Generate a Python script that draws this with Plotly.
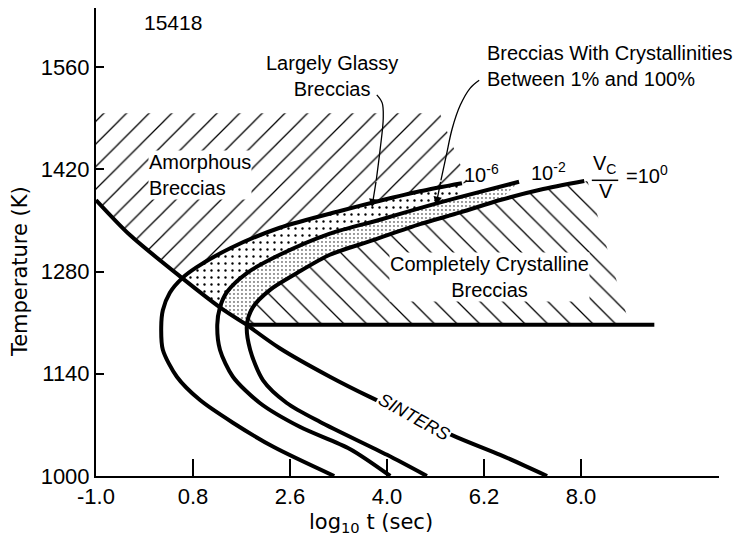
import plotly.graph_objects as go

# ---------------- axes ----------------
x_tickvals = [-1.0, 0.8, 2.6, 4.4, 6.2, 8.0]
x_ticktext = ["-1.0", "0.8", "2.6", "4.0", "6.2", "8.0"]
y_tickvals = [1000, 1140, 1280, 1420, 1560]
y_ticktext = ["1000", "1140", "1280", "1420", "1560"]

# ---------------- curves (log10 t, T in K) ----------------
# Vc/V = 1e-6 (outer C-curve)
x6_lo = [3.42, 2.29, 1.54, 0.93, 0.50, 0.24, 0.21]
T6_lo = [1000, 1040, 1073, 1104, 1136, 1173, 1204]
x6_up = [0.21, 0.24, 0.37, 0.60, 0.87, 1.49, 2.41, 3.53, 4.27, 5.01, 5.79]
T6_up = [1204, 1227, 1251, 1271, 1286, 1312, 1340, 1363, 1377, 1390, 1401]

# Vc/V = 1e-2
x2_lo = [4.46, 3.71, 2.79, 2.04, 1.54, 1.30, 1.25]
T2_lo = [1000, 1037, 1067, 1100, 1136, 1173, 1207]
x2_up = [1.25, 1.30, 1.43, 1.80, 2.41, 3.34, 4.27, 5.01, 5.75, 6.85]
T2_up = [1207, 1231, 1252, 1278, 1303, 1332, 1351, 1367, 1382, 1403]

# Vc/V = 1e0
x0_lo = [5.14, 4.40, 3.16, 2.54, 2.10, 1.86, 1.80]
T0_lo = [1000, 1029, 1074, 1100, 1131, 1173, 1207]
x0_up = [1.80, 1.91, 2.23, 2.73, 3.34, 4.14, 5.01, 5.76, 6.50, 7.24, 8.06]
T0_up = [1207, 1231, 1255, 1278, 1303, 1323, 1345, 1361, 1378, 1392, 1404]

# amorphous / glassy boundary
xa = [-1.0, -0.37, 0.60, 1.30, 1.80]
Ta = [1378, 1330, 1271, 1231, 1207]

# completely crystalline lower bound
xh = [1.80, 9.36]
Th = [1207, 1207]

# sinters
xs = [1.80, 2.41, 3.34, 4.09, 5.70, 6.50, 7.37]
Ts = [1207, 1175, 1136, 1108, 1053, 1029, 1000]

# hatched-region outer limits
amorph_top_T = 1497
amorph_right_x = [5.38, 5.90]
amorph_right_T = [1497, 1401]
cryst_right_x = [8.12, 8.90]
cryst_right_T = [1404, 1207]

# callout arrows
arrow_glassy_x = [4.21, 4.31, 4.33, 4.27, 4.20, 4.12]
arrow_glassy_T = [1522, 1511, 1490, 1446, 1405, 1368]
arrow_cryst_x = [6.11, 5.94, 5.76, 5.61, 5.50, 5.40, 5.31]
arrow_cryst_T = [1542, 1531, 1508, 1476, 1439, 1405, 1371]

fig = go.Figure()


def hatch(xx, tt, shape, size, solidity):
    fig.add_trace(go.Scatter(
        x=xx, y=tt, mode="lines", fill="toself",
        line=dict(width=0, color="rgba(0,0,0,0)"),
        fillcolor="white",
        fillpattern=dict(shape=shape, size=size, solidity=solidity,
                         fgcolor="black", bgcolor="white", fillmode="replace"),
        hoverinfo="skip", showlegend=False))


# amorphous breccias (/ hatching)
hatch([xa[0]] + [amorph_right_x[0], amorph_right_x[1]] + x6_up[3:][::-1] + xa[:2][::-1],
      [amorph_top_T] + amorph_right_T + T6_up[3:][::-1] + Ta[:2][::-1],
      "/", 16, 0.08)
# completely crystalline (\ hatching)
hatch(x0_up + cryst_right_x, T0_up + cryst_right_T, "\\", 16, 0.08)
# largely glassy band
hatch(x6_up[3:] + x2_up[1:9][::-1], T6_up[3:] + T2_up[1:9][::-1], ".", 7, 0.09)
# partly crystalline band (stipple)
hatch(x2_up[1:] + x0_up[:9][::-1], T2_up[1:] + T0_up[:9][::-1], ".", 4, 0.1)

thick = dict(color="black", width=4, shape="spline", smoothing=0.8)
for cx, ct in [(x6_lo + x6_up[1:], T6_lo + T6_up[1:]),
               (x2_lo + x2_up[1:], T2_lo + T2_up[1:]),
               (x0_lo + x0_up[1:], T0_lo + T0_up[1:]),
               (xa, Ta), (xs, Ts)]:
    fig.add_trace(go.Scatter(x=cx, y=ct, mode="lines", line=thick,
                             hoverinfo="skip", showlegend=False))
fig.add_trace(go.Scatter(x=xh, y=Th, mode="lines",
                         line=dict(color="black", width=4),
                         hoverinfo="skip", showlegend=False))

# callout arrows
for ax_, at_ in [(arrow_glassy_x, arrow_glassy_T), (arrow_cryst_x, arrow_cryst_T)]:
    fig.add_trace(go.Scatter(x=ax_[:-1], y=at_[:-1], mode="lines",
                             line=dict(color="black", width=1.3, shape="spline"),
                             hoverinfo="skip", showlegend=False))
    fig.add_annotation(x=ax_[-1], y=at_[-1], ax=ax_[-2], ay=at_[-2],
                       xref="x", yref="y", axref="x", ayref="y",
                       text="", showarrow=True, arrowhead=2, arrowsize=1.3,
                       arrowwidth=1.3, arrowcolor="black")

F = "Liberation Sans, Arial, sans-serif"
txt = dict(size=20, family=F, color="black")


def label(x, y, text, **kw):
    fig.add_annotation(x=x, y=y, xref="x", yref="y", text=text,
                       showarrow=False, font=kw.pop("font", txt), **kw)


label(0.43, 1621, "15418", font=dict(size=21, family=F, color="black"))
label(-0.04, 1412, "Amorphous<br>Breccias", xanchor="left", align="left",
      bgcolor="white", borderpad=0)
label(3.38, 1548, "Largely Glassy<br>Breccias")
label(6.22, 1561, "Breccias With Crystallinities<br>Between 1% and 100%",
      xanchor="left", align="left")
label(6.30, 1272, "Completely Crystalline<br>Breccias", bgcolor="white", borderpad=0)
label(6.15, 1415, "10<sup>-6</sup>")
label(7.40, 1417, "10<sup>-2</sup>")
label(8.43, 1427, "V<sub>C</sub>")
label(8.46, 1391, "V")
label(9.23, 1413, "=10<sup>0</sup>")
label(4.90, 1081, "<i>SINTERS</i>", textangle=29, bgcolor="white", borderpad=1,
      font=dict(size=18, family=F, color="black"))

frac_x = [8.20, 8.69]
frac_T = 1405
fig.add_shape(type="line", xref="x", yref="y", x0=frac_x[0], x1=frac_x[1],
              y0=frac_T, y1=frac_T, line=dict(color="black", width=1.5))

# axis titles
TF = dict(size=21, family="DejaVu Sans, sans-serif", color="black")
fig.add_annotation(xref="paper", yref="paper", x=-0.121, y=0.437,
                   xanchor="center", yanchor="middle",
                   text="Temperature (K)", textangle=-90, showarrow=False, font=TF)
fig.add_annotation(xref="paper", yref="paper", x=0.441, y=-0.100,
                   xanchor="center", yanchor="middle",
                   text="log<sub>10</sub> t (sec)", showarrow=False, font=TF)

# page body has an 8px margin: figure is sized so the plot area lands on the reference
fig.update_layout(width=736, height=531,
                  margin=dict(l=88, r=25, t=0, b=63),
                  plot_bgcolor="white", paper_bgcolor="white",
                  showlegend=False, font=dict(family=F, color="black"))
fig.update_xaxes(range=[-1.0, 10.56], tickvals=x_tickvals, ticktext=x_ticktext,
                 ticks="inside", ticklen=17, tickwidth=1.5, tickcolor="black",
                 showline=True, linewidth=2, linecolor="black",
                 showgrid=False, zeroline=False, automargin=False,
                 tickfont=dict(size=22, family=F, color="black"))
fig.update_yaxes(range=[1000, 1641], tickvals=y_tickvals, ticktext=y_ticktext,
                 ticks="inside", ticklen=8, tickwidth=1.5, tickcolor="black",
                 showline=True, linewidth=2, linecolor="black",
                 showgrid=False, zeroline=False, automargin=False,
                 tickfont=dict(size=22, family=F, color="black"))

fig.write_html("out.html")
